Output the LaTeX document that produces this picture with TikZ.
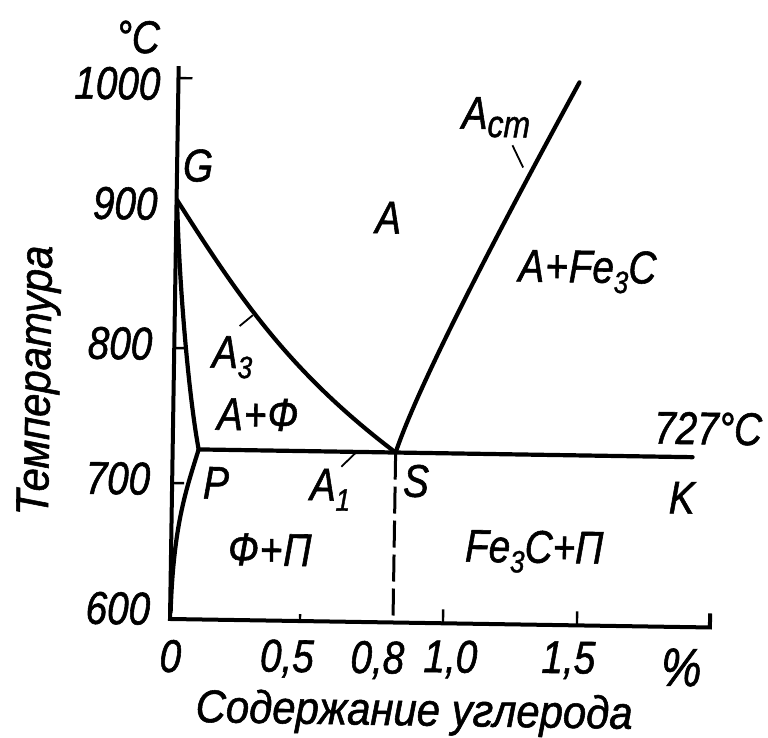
\documentclass[tikz,border=0pt]{standalone}
\usepackage{fontspec}
\newfontfamily\gost{Liberation Sans}[FakeStretch=0.84, FakeBold=1.2]
\newfontfamily\gostw{Liberation Sans}[FakeStretch=0.91, FakeBold=1.2]
\newcommand\mysubs[1]{\raisebox{-10pt}{\fontsize{31}{31}\selectfont #1}}
\begin{document}
\begin{tikzpicture}[x=1pt,y=-1pt,
  curve/.style={line width=4.2pt, line cap=round, line join=round},
  axisline/.style={line width=4pt, line join=miter},
  tickmark/.style={line width=2.4pt},
  marker/.style={line width=1.8pt},
  lbl/.style={inner sep=0pt, outer sep=0pt, font=\gost\itshape\fontsize{46}{50}\selectfont},
  title/.style={inner sep=0pt, outer sep=0pt, font=\gostw\itshape\fontsize{46}{50}\selectfont}]
\useasboundingbox (0,0) rectangle (768,737);
\begin{scope}[rotate around={-0.9:(170,619)}, transform shape]
 \coordinate (O) at (170,619);
 \coordinate (T) at (170,66);
 \coordinate (X) at (710,619);
 \coordinate (Xt) at (710,605);
 \coordinate (G) at (170.5,200);
 \coordinate (P) at (196,449);
 \coordinate (S) at (393,449);
 \coordinate (K) at (690,449);
 \coordinate (E) at (571,76);
 \coordinate (Q) at (170.5,612);
 \coordinate (Sb) at (393,619);
 % axes
 \draw[axisline] (T) -- (O) -- (X) -- (Xt);
 \coordinate (y1000a) at (170,78); \coordinate (y1000b) at (184,78);
 \coordinate (y800a) at (170,348); \coordinate (y800b) at (182,348);
 \coordinate (y700a) at (170,483); \coordinate (y700b) at (182,483);
 \coordinate (x05a) at (300,619); \coordinate (x05b) at (300,612);
 \coordinate (x10a) at (443,619); \coordinate (x10b) at (443,605);
 \coordinate (x15a) at (577,619); \coordinate (x15b) at (577,605);
 \draw[tickmark] (y1000a) -- (y1000b);
 \draw[tickmark] (y800a) -- (y800b);
 \draw[tickmark] (y700a) -- (y700b);
 \draw[tickmark] (x05a) -- (x05b);
 \draw[tickmark] (x10a) -- (x10b);
 \draw[tickmark] (x15a) -- (x15b);
 % phase lines
 \draw[curve] (G) .. controls (174,290) and (186,400) .. (P);
 \draw[curve] (G) .. controls (236,300) and (288,372) .. (S);
 \draw[curve] (S) .. controls (415,380) and (490,230) .. (E);
 \draw[curve] (P) -- (S) -- (K);
 \draw[curve] (P) .. controls (184,490) and (172,525) .. (Q);
 \draw[line width=3pt, dash pattern=on 27pt off 7pt] (S) -- (Sb);
 % label markers
 \coordinate (m3a) at (248,314); \coordinate (m3b) at (235,325);
 \coordinate (m1a) at (353,450); \coordinate (m1b) at (339,464);
 \coordinate (mca) at (516,162); \coordinate (mcb) at (505,140);
 \draw[marker] (m3a) -- (m3b);
 \draw[marker] (m1a) -- (m1b);
 \draw[marker] (mca) -- (mcb);
 % tick labels
 \node[lbl, anchor=base east] (t1000) at (152,100) {1000};
 \node[lbl, anchor=base east] (t900) at (151,220) {900};
 \node[lbl, anchor=base east] (t800) at (148,360) {800};
 \node[lbl, anchor=base east] (t700) at (148,495) {700};
 \node[lbl, anchor=base east] (t600) at (150,625) {600};
 \node[lbl, anchor=base] (x0) at (171,672) {0};
 \node[lbl, anchor=base] (x05) at (287.5,670) {0,5};
 \node[lbl, anchor=base] (x08) at (378,670) {0,8};
 \node[lbl, anchor=base] (x10) at (451,668) {1,0};
 \node[lbl, anchor=base] (x15) at (569,667) {1,5};
 \node[lbl, anchor=base, font=\gost\itshape\fontsize{54}{58}\selectfont] (xpc) at (682,678) {\%};
 \node[lbl, anchor=base] (deg) at (129,53.5) {°C};
 % region and point labels
 \node[lbl, anchor=base] (lG) at (191,181) {G};
 \node[lbl, anchor=base] (lA) at (382,230) {A};
 \node[lbl, anchor=base west] (lAFe) at (513,276) {A\kern1pt+\kern1ptFe\mysubs{3}C};
 \node[lbl, anchor=base west] (lAcm) at (454,124) {A\raisebox{-8pt}{\fontsize{38}{38}\selectfont cm}};
 \node[lbl, anchor=base west] (lA3) at (208,367) {A\mysubs{3}};
 \node[lbl, anchor=base west] (lAF) at (214,429) {A\kern1pt+\kern1ptФ};
 \node[lbl, anchor=base east] (l727) at (759,436) {727°C};
 \node[lbl, anchor=base west] (lP) at (201,498) {P};
 \node[lbl, anchor=base west] (lA1) at (308,498) {A\mysubs{1}};
 \node[lbl, anchor=base west] (lS) at (401,493) {S};
 \node[lbl, anchor=base west] (lK) at (667,505.5) {K};
 \node[lbl, anchor=base west] (lFP) at (227,564) {Ф\kern1pt+\kern1ptП};
 \node[lbl, anchor=base west] (lFeP) at (464,557) {Fe\mysubs{3}C+П};
 % axis titles
 \node[title, anchor=base] (xt) at (415.6,721.6) {Содержание углерода};
 \node[title, anchor=base, rotate=90] (yt) at (46.3,382.7) {Температура};
\end{scope}
\end{tikzpicture}
\end{document}
